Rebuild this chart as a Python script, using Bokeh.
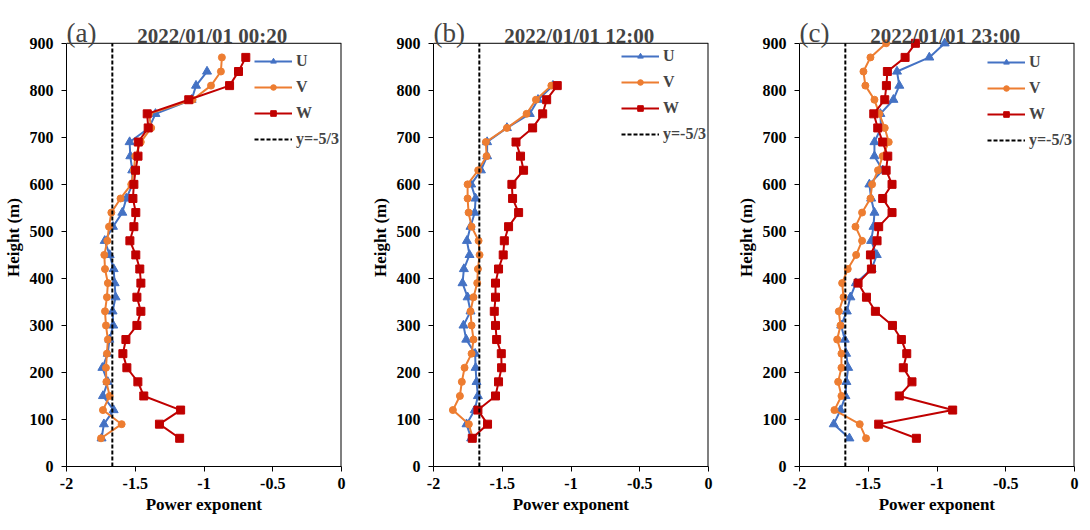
from bokeh.plotting import figure
from bokeh.layouts import row
from bokeh.models import Range1d, FixedTicker, Label, Legend, LegendItem
from bokeh.embed import file_html
from bokeh.resources import INLINE

# heights (m)
h_a = [60, 90, 120, 150, 180, 210, 240, 270, 300, 330, 360, 390, 420, 450, 480,
       510, 540, 570, 600, 630, 660, 690, 720, 750, 780, 810, 840, 870]
h_b = [60, 90, 120, 150, 180, 210, 240, 270, 300, 330, 360, 390, 420, 450, 480,
       510, 540, 570, 600, 630, 660, 690, 720, 750, 780, 810]
h_c = [60, 90, 120, 150, 180, 210, 240, 270, 300, 330, 360, 390, 420, 450, 480,
       510, 540, 570, 600, 630, 660, 690, 720, 750, 780, 810, 840, 870, 900]

# (a) 2022/01/01 00:20  (U has no point at 870 m)
u_a = [-1.745, -1.728, -1.657, -1.735, -1.70, -1.739, -1.70, -1.688, -1.66, -1.665,
       -1.643, -1.65, -1.657, -1.686, -1.722, -1.662, -1.594, -1.565, -1.52, -1.522,
       -1.536, -1.541, -1.40, -1.353, -1.09, -1.058, -0.978]
v_a = [-1.749, -1.599, -1.735, -1.686, -1.71, -1.713, -1.706, -1.699, -1.713, -1.72,
       -1.706, -1.699, -1.72, -1.725, -1.703, -1.691, -1.674, -1.607, -1.529, -1.51,
       -1.50, -1.46, -1.384, -1.40, -1.083, -0.949, -0.877, -0.870]
w_a = [-1.177, -1.324, -1.170, -1.438, -1.481, -1.561, -1.590, -1.568, -1.488, -1.459,
       -1.488, -1.459, -1.467, -1.496, -1.539, -1.51, -1.496, -1.517, -1.51, -1.498,
       -1.48, -1.478, -1.406, -1.413, -1.111, -0.814, -0.749, -0.696]

# (b) 2022/01/01 12:00
u_b = [-1.726, -1.760, -1.70, -1.677, -1.687, -1.694, -1.697, -1.762, -1.782, -1.731,
       -1.752, -1.789, -1.779, -1.738, -1.757, -1.731, -1.70, -1.694, -1.726, -1.655,
       -1.61, -1.61, -1.466, -1.30, -1.24, -1.131]
v_b = [-1.714, -1.743, -1.859, -1.808, -1.794, -1.774, -1.723, -1.709, -1.723, -1.731,
       -1.709, -1.682, -1.677, -1.665, -1.672, -1.723, -1.745, -1.752, -1.752, -1.675,
       -1.614, -1.619, -1.466, -1.323, -1.255, -1.143]
w_b = [-1.718, -1.607, -1.677, -1.549, -1.527, -1.505, -1.507, -1.541, -1.549, -1.558,
       -1.549, -1.549, -1.527, -1.493, -1.485, -1.454, -1.381, -1.425, -1.430, -1.345,
       -1.367, -1.400, -1.279, -1.206, -1.177, -1.100]

# (c) 2022/01/01 23:00
u_c = [-1.637, -1.751, -1.702, -1.666, -1.659, -1.646, -1.661, -1.671, -1.697, -1.656,
       -1.63, -1.59, -1.475, -1.438, -1.479, -1.462, -1.455, -1.479, -1.492, -1.395,
       -1.455, -1.455, -1.407, -1.412, -1.317, -1.274, -1.291, -1.056, -0.944]
v_c = [-1.516, -1.562, -1.746, -1.695, -1.719, -1.695, -1.695, -1.726, -1.702, -1.714,
       -1.680, -1.690, -1.649, -1.588, -1.545, -1.593, -1.545, -1.484, -1.472, -1.429,
       -1.395, -1.351, -1.380, -1.42, -1.455, -1.521, -1.535, -1.484, -1.370]
w_c = [-1.150, -1.424, -0.886, -1.274, -1.182, -1.245, -1.220, -1.259, -1.324, -1.448,
       -1.513, -1.574, -1.477, -1.484, -1.436, -1.424, -1.327, -1.395, -1.327, -1.370,
       -1.358, -1.395, -1.431, -1.460, -1.380, -1.368, -1.361, -1.232, -1.157]

# reference line y=-5/3
ref_x = [-5 / 3, -5 / 3]
ref_y = [0, 900]

x_ticks = [-2, -1.5, -1, -0.5, 0]
x_tick_labels = ["-2", "-1.5", "-1", "-0.5", "0"]
y_ticks = [0, 100, 200, 300, 400, 500, 600, 700, 800, 900]

FONT = "Liberation Serif"
C_U = "#4472C4"
C_V = "#ED7D31"
C_W = "#C00000"

# the frame is taller than the 0-900 box so that the panel tag and the
# date can sit inside it (annotations get clipped to the frame)
Y_TOP = 974


def panel(tag, title, h_u, u, h_v, v, h_w, w, left, right, legend_y):
    p = figure(frame_width=275, frame_height=458, x_range=Range1d(-2, 0),
               y_range=Range1d(0, Y_TOP), output_backend="svg",
               toolbar_location=None, tools="",
               min_border_left=left, min_border_right=right,
               min_border_top=8, min_border_bottom=50)
    p.outline_line_color = None
    p.xgrid.visible = False
    p.ygrid.visible = False

    # box around 0-900
    p.line([-2, 0], [900, 900], color="black", line_width=1)
    p.line([0, 0], [0, 900], color="black", line_width=2)

    ru = p.line(u, h_u, color=C_U, line_width=2)
    mu = p.scatter(u, h_u, marker="triangle", size=9, color=C_U)
    rv = p.line(v, h_v, color=C_V, line_width=2)
    mv = p.scatter(v, h_v, marker="circle", size=7, color=C_V)
    rw = p.line(w, h_w, color=C_W, line_width=2)
    mw = p.scatter(w, h_w, marker="square", size=8, color=C_W)
    rr = p.line(ref_x, ref_y, color="black", line_width=2, line_dash="4 2")

    lg = Legend(items=[LegendItem(label="U", renderers=[ru, mu]),
                       LegendItem(label="V", renderers=[rv, mv]),
                       LegendItem(label="W", renderers=[rw, mw]),
                       LegendItem(label="y=-5/3", renderers=[rr])],
                location=(188, legend_y), margin=0, padding=0, spacing=8,
                glyph_width=38, glyph_height=14, label_height=18,
                label_standoff=4, label_text_font=FONT,
                label_text_font_size="16px", label_text_font_style="bold",
                border_line_alpha=0, background_fill_alpha=0)
    p.add_layout(lg)

    p.xaxis.ticker = FixedTicker(ticks=x_ticks)
    p.xaxis.major_label_overrides = dict(zip(x_ticks, x_tick_labels))
    p.yaxis.ticker = FixedTicker(ticks=y_ticks)
    p.yaxis.bounds = (0, 900)
    for ax in (p.xaxis, p.yaxis):
        ax.minor_tick_line_color = None
        ax.major_tick_in = 0
        ax.major_tick_out = 5
        ax.axis_line_color = "black"
        ax.major_tick_line_color = "black"
        ax.major_label_text_font = FONT
        ax.major_label_text_font_size = "16px"
        ax.major_label_text_font_style = "bold"
        ax.major_label_text_color = "black"
        ax.axis_label_text_font = FONT
        ax.axis_label_text_font_size = "17px"
        ax.axis_label_text_font_style = "bold"
        ax.axis_label_text_color = "black"
    p.xaxis.axis_label = "Power exponent"
    p.yaxis.axis_label = "Height (m)"
    p.xaxis.major_label_standoff = 6
    p.xaxis.axis_label_standoff = 3
    p.yaxis.major_label_standoff = 8
    p.yaxis.axis_label_standoff = 4

    p.add_layout(Label(x=-2.0, y=922, text=tag, text_font=FONT,
                       text_font_size="27px", text_baseline="alphabetic"))
    p.add_layout(Label(x=-0.94, y=915, text=title, text_font=FONT,
                       text_font_size="21px", text_font_style="bold",
                       text_align="center", text_baseline="alphabetic"))
    return p


pa = panel("(a)", "2022/01/01 00:20", h_a[:len(u_a)], u_a, h_a, v_a, h_a, w_a, 59, 26, 318)
pb = panel("(b)", "2022/01/01 12:00", h_b, u_b, h_b, v_b, h_b, w_b, 60, 25, 323)
pc = panel("(c)", "2022/01/01 23:00", h_c, u_c, h_c, v_c, h_c, w_c, 60, 5, 317)

page = row(pa, pb, pc)
open("out.html", "w").write(file_html(page, INLINE))
